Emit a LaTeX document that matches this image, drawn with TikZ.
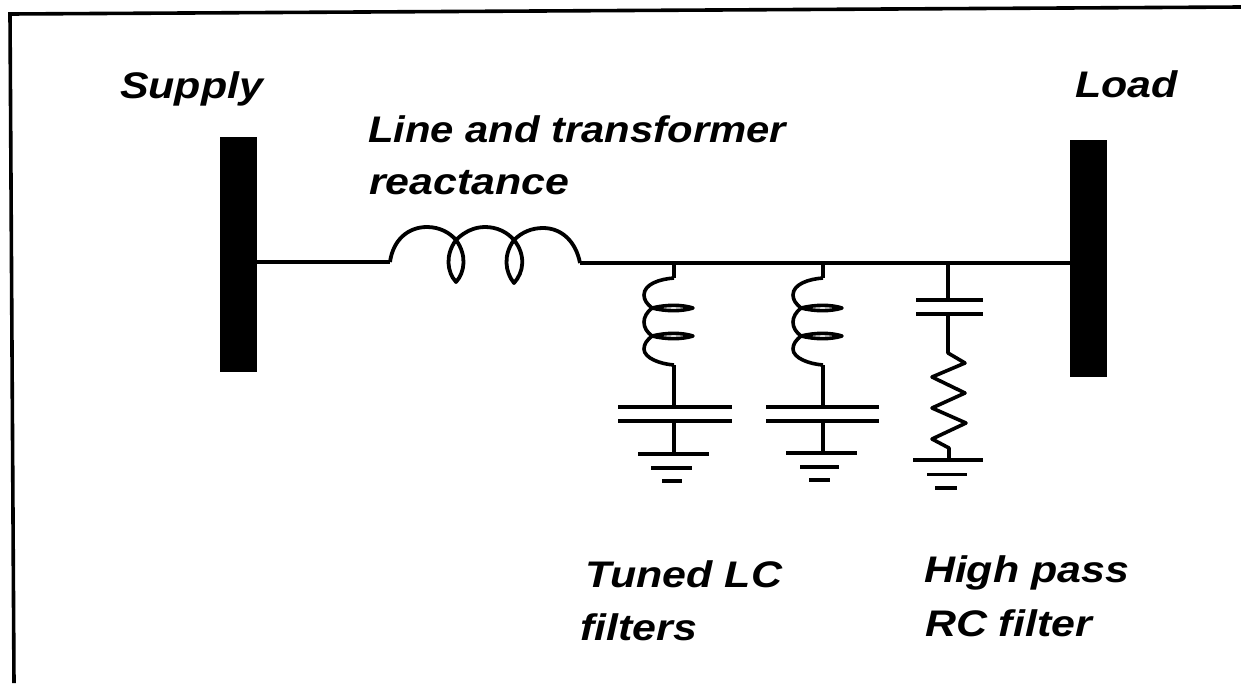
\documentclass[tikz,border=0pt]{standalone}
\usepackage{fontspec}
\newfontfamily\lab{Liberation Sans}[FakeStretch=1.16]
\newfontfamily\labn{Liberation Sans}[FakeStretch=1.13]
\tikzset{
  wire/.style={draw=black,line width=3.6pt,line join=round},
  busbar/.style={fill=black,draw=none,minimum width=37pt,inner sep=0pt,outer sep=0pt},
  caption/.style={anchor=base west,inner sep=0pt,outer sep=0pt,font=\lab\bfseries\itshape\fontsize{37}{37}\selectfont,text=black},
  captionn/.style={anchor=base west,inner sep=0pt,outer sep=0pt,font=\labn\bfseries\itshape\fontsize{37}{37}\selectfont,text=black},
  plate/.style={draw=black,line width=4pt},
  gnd/.style={draw=black,line width=3.6pt}
}
\begin{document}
\begin{tikzpicture}[x=1pt,y=-1pt]
\useasboundingbox (0,0) rectangle (1241,683);
\fill[white] (0,0) rectangle (1241,683);
% frame
\coordinate (fa) at (1241,7);
\coordinate (fb) at (10,14);
\coordinate (fc) at (14,683);
\draw[line width=3.6pt] (fa) -- (fb) -- (fc);
% bus bars
\node[busbar,minimum height=235pt] (supply) at (238.5,254.5) {};
\node[busbar,minimum height=237pt] (load) at (1088.5,258.5) {};
% junctions
\coordinate (la) at (390,262);
\coordinate (lb) at (580,263);
\coordinate (j1) at (674,263);
\coordinate (j2) at (823,263);
\coordinate (j3) at (948,263);
% main line
\draw[wire] (supply.east |- la) -- (la);
\draw[wire] (lb) -- (j1) -- (j2) -- (j3) -- (load.west |- j3);
% series inductor
\draw[wire,line width=3.8pt] (la) .. controls (393,240) and (408,227) .. (427,227)
  .. controls (440,227) and (450,233) .. (456,240)
  .. controls (445,255) and (447,272) .. (456,282)
  .. controls (465,272) and (467,255) .. (456,240)
  .. controls (464,232) and (474,227) .. (485,227)
  .. controls (497,227) and (507,232) .. (514,240)
  .. controls (503,255) and (505,272) .. (514,283)
  .. controls (524,272) and (526,255) .. (514,240)
  .. controls (522,232) and (532,228) .. (543,228)
  .. controls (562,228) and (576,242) .. (lb);
% LC branches
\foreach \n/\x/\pl/\pr/\gl/\gr/\hl/\hr/\il/\ir/\gy in {a/674/618/732/638/709/651/692/662/682/454,b/823/766/879/786/857/800/839/809/830/453}{
  \coordinate (s\n) at (\x,278);
  \coordinate (e\n) at (\x,365);
  \coordinate (p\n) at (\x,407);
  \coordinate (q\n) at (\x,421);
  \coordinate (g\n) at (\x,\gy);
  \draw[wire] (\x,263) -- (s\n);
  \draw[wire] (s\n) .. controls (\x-14,279) and (\x-30,284) .. (\x-30,295)
    .. controls (\x-30,300) and (\x-27,304) .. (\x-22,308)
    .. controls (\x-8,304.5) and (\x+8,304.5) .. (\x+19,308)
    .. controls (\x+8,311.5) and (\x-8,311.5) .. (\x-22,308)
    .. controls (\x-27,312) and (\x-30,317) .. (\x-30,322)
    .. controls (\x-30,328) and (\x-27,332) .. (\x-22,336)
    .. controls (\x-8,332.5) and (\x+8,332.5) .. (\x+19,336)
    .. controls (\x+8,339.5) and (\x-8,339.5) .. (\x-22,336)
    .. controls (\x-27,340) and (\x-30,344) .. (\x-30,349)
    .. controls (\x-30,358) and (\x-14,364) .. (e\n);
  \draw[wire] (e\n) -- (p\n);
  \draw[plate] (\pl,407) -- (\pr,407);
  \draw[plate] (\pl,421) -- (\pr,421);
  \draw[wire] (q\n) -- (g\n);
  \draw[gnd] (\gl,\gy) -- (\gr,\gy);
  \draw[gnd] (\hl,\gy+14) -- (\hr,\gy+14);
  \draw[gnd] (\il,\gy+27) -- (\ir,\gy+27);
}
% RC branch
\coordinate (c1) at (948,300);
\coordinate (c2) at (948,314);
\coordinate (ra) at (948,353);
\coordinate (rb) at (949,460);
\draw[wire] (j3) -- (c1);
\draw[plate,line width=3.6pt] (916,300) -- (983,300);
\draw[plate,line width=3.6pt] (916,314) -- (983,314);
\draw[wire] (c2) -- (ra) -- (965,363) -- (932,377) -- (965,393) -- (932,408) -- (966,423) -- (932,439) -- (949,448) -- (rb);
\draw[gnd] (913,460) -- (983,460);
\draw[gnd,line width=3pt] (927,474) -- (967,474);
\draw[gnd] (935,488) -- (957,488);
% labels
\node[caption] (tsupply) at (120,98) {Supply};
\node[caption] (tload) at (1075,97) {Load};
\node[captionn] (tline) at (368,142) {Line and transformer};
\node[caption] (treact) at (369,194) {reactance};
\node[caption] (ttuned) at (585,587) {Tuned LC};
\node[caption] (tfilt) at (580,640) {filters};
\node[caption] (thigh) at (924,582) {High pass};
\node[caption] (trc) at (925,636) {RC filter};
\end{tikzpicture}
\end{document}
